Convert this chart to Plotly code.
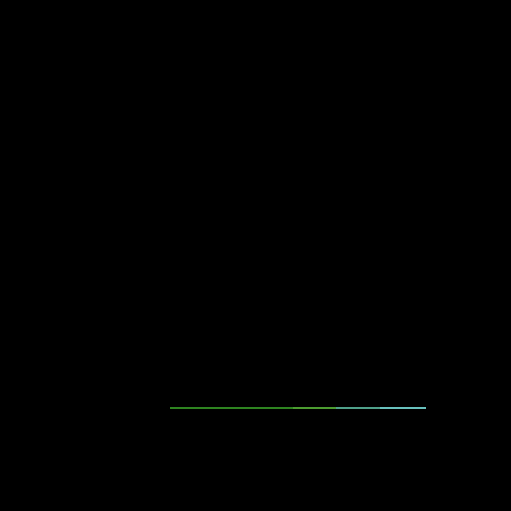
import plotly.graph_objects as go

# one thin stacked bar, four coloured parts
segments = ["A", "B", "C", "D"]
values = [123, 43, 44, 46]
colors = ["#2e8420", "#4c9c30", "#4fa08a", "#68c0bc"]

fig = go.Figure()
for name, v, c in zip(segments, values, colors):
    fig.add_trace(go.Bar(
        x=[v], y=[0.5], name=name, orientation="h",
        width=0.125, marker=dict(color=c, line=dict(width=0)),
        showlegend=False, hoverinfo="skip",
    ))

fig.update_layout(
    barmode="stack",
    width=511, height=511,
    margin=dict(l=170, r=85, t=400, b=95),
    paper_bgcolor="black", plot_bgcolor="black",
    xaxis=dict(range=[0, sum(values)], visible=False),
    yaxis=dict(range=[0, 1], visible=False),
)

# page body: no margin, black behind the figure
fig.write_html(
    "out.html",
    config={"displayModeBar": False},
    post_script="document.body.style.margin='0';document.body.style.background='black';",
)
